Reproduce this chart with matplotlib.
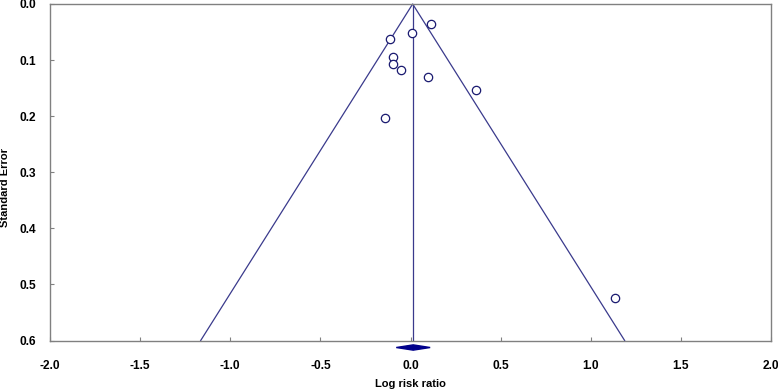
import matplotlib
matplotlib.use("Agg")
import matplotlib.pyplot as plt
from matplotlib.patches import Polygon

plt.rcParams['font.family'] = ['Liberation Sans', 'DejaVu Sans']

# Study data: log risk ratio and standard error
log_rr = [0.112, 0.010, -0.115, -0.095, -0.095, -0.053, 0.095, 0.365, -0.140, 1.134]
std_err = [0.036, 0.052, 0.063, 0.095, 0.107, 0.117, 0.130, 0.153, 0.203, 0.525]

pooled = 0.012
pooled_half_width = 0.094
se_max = 0.6

x_ticks = [-2.0, -1.5, -1.0, -0.5, 0.0, 0.5, 1.0, 1.5, 2.0]
y_ticks = [0.0, 0.1, 0.2, 0.3, 0.4, 0.5, 0.6]

fig = plt.figure(figsize=(7.78, 3.92), dpi=100)
ax = fig.add_axes([50/778, 1 - 340.5/392, (771-50)/778, (340.5-4)/392])

line_col = '#3a3a8c'
ax.plot([pooled - 1.96*se_max, pooled, pooled + 1.96*se_max], [se_max, 0, se_max],
        color=line_col, lw=0.9, clip_on=False)
ax.plot([pooled, pooled], [0, se_max], color=line_col, lw=0.9)

ax.plot(log_rr, std_err, 'o', mfc='white', mec='#1a1a70', mew=0.9, ms=6, ls='none')

dc = pooled + 0.003
diamond = Polygon([[dc - pooled_half_width, 0.6125], [dc, 0.6078],
                   [dc + pooled_half_width, 0.6125], [dc, 0.6172]],
                  closed=True, facecolor='#00008b', edgecolor='#00008b', clip_on=False)
ax.add_patch(diamond)

ax.set_xlim(-2.0, 2.0)
ax.set_ylim(0.6, 0.0)
ax.set_xticks(x_ticks)
ax.set_yticks(y_ticks)
ax.set_xticklabels([f"{v:.1f}" for v in x_ticks], fontweight='bold', fontsize=8.6)
ax.set_yticklabels([f"{v:.1f}" for v in y_ticks], fontweight='bold', fontsize=8.6)
ax.tick_params(direction='in', length=3, color='#808080', width=0.8)
ax.tick_params(axis='x', pad=14)
ax.tick_params(axis='y', pad=10)
for s in ax.spines.values():
    s.set_color('#808080')
    s.set_linewidth(1.0)

ax.set_xlabel('Log risk ratio', fontweight='bold', fontsize=8)
ax.xaxis.set_label_coords(0.5, -0.1144)
ax.set_ylabel('Standard Error', fontweight='bold', fontsize=8)
ax.yaxis.set_label_coords(-0.055, 0.456)

fig.savefig('out.png', dpi=100, facecolor='white')
